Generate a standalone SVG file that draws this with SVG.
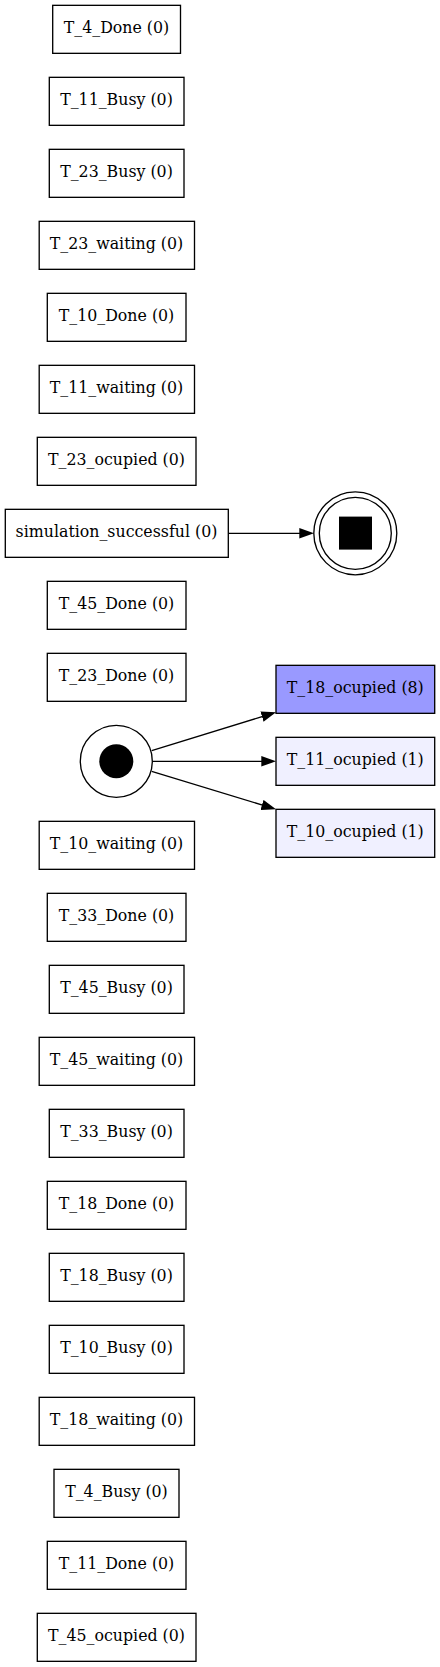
<svg xmlns="http://www.w3.org/2000/svg" width="440" height="1667" viewBox="0 0 440 1667">
<style>
.b{fill:#fff;stroke:#000;stroke-width:1.33;transform:translate(0,.33px)}
.t{font-family:"DejaVu Serif",serif;font-size:15.8px;text-anchor:middle;fill:#000}
.e{stroke:#000;stroke-width:1.33;fill:none;marker-end:url(#a)}
.c{fill:none;stroke:#000;stroke-width:1.33}
</style>
<defs><marker id="a" markerUnits="userSpaceOnUse" markerWidth="15" markerHeight="11" refX="10.7" refY="5.5" orient="auto"><path d="M0,0.2L14.7,5.5L0,10.8z" fill="#000"/></marker></defs>
<rect width="440" height="1667" fill="#fff"/>
<g id="connectors">
<line class="e" x1="228.3" y1="533.3" x2="310" y2="533.3"/>
<line class="e" x1="151.7" y1="750.7" x2="272.2" y2="713.5"/>
<line class="e" x1="152.5" y1="761.3" x2="272" y2="761.3"/>
<line class="e" x1="151.7" y1="771.3" x2="272.2" y2="808.1"/>
</g>
<g id="n1"><rect class="b" x="52.7" y="5" width="127.8" height="48"/><text class="t" x="116.5" y="33.3">T_4_Done (0)</text></g>
<g id="n2"><rect class="b" x="49.3" y="77" width="134.7" height="48"/><text class="t" x="116.5" y="105.3">T_11_Busy (0)</text></g>
<g id="n3"><rect class="b" x="49.3" y="149" width="134.7" height="48"/><text class="t" x="116.5" y="177.3">T_23_Busy (0)</text></g>
<g id="n4"><rect class="b" x="39.2" y="221" width="155.3" height="48"/><text class="t" x="116.5" y="249.3">T_23_waiting (0)</text></g>
<g id="n5"><rect class="b" x="47.3" y="293" width="138.7" height="48"/><text class="t" x="116.5" y="321.3">T_10_Done (0)</text></g>
<g id="n6"><rect class="b" x="39.2" y="365" width="155.3" height="48"/><text class="t" x="116.5" y="393.3">T_11_waiting (0)</text></g>
<g id="n7"><rect class="b" x="37.3" y="437" width="158.7" height="48"/><text class="t" x="116.5" y="465.3">T_23_ocupied (0)</text></g>
<g id="n8"><rect class="b" x="5.3" y="509" width="223" height="48"/><text class="t" x="116.5" y="537.3">simulation_successful (0)</text></g>
<g id="n9"><rect class="b" x="47.3" y="581" width="138.7" height="48"/><text class="t" x="116.5" y="609.3">T_45_Done (0)</text></g>
<g id="n10"><rect class="b" x="47.3" y="653" width="138.7" height="48"/><text class="t" x="116.5" y="681.3">T_23_Done (0)</text></g>
<g id="n11"><rect class="b" x="39.2" y="821" width="155.3" height="48"/><text class="t" x="116.5" y="849.3">T_10_waiting (0)</text></g>
<g id="n12"><rect class="b" x="47.3" y="893" width="138.7" height="48"/><text class="t" x="116.5" y="921.3">T_33_Done (0)</text></g>
<g id="n13"><rect class="b" x="49.3" y="965" width="134.7" height="48"/><text class="t" x="116.5" y="993.3">T_45_Busy (0)</text></g>
<g id="n14"><rect class="b" x="39.2" y="1037" width="155.3" height="48"/><text class="t" x="116.5" y="1065.3">T_45_waiting (0)</text></g>
<g id="n15"><rect class="b" x="49.3" y="1109" width="134.7" height="48"/><text class="t" x="116.5" y="1137.3">T_33_Busy (0)</text></g>
<g id="n16"><rect class="b" x="47.3" y="1181" width="138.7" height="48"/><text class="t" x="116.5" y="1209.3">T_18_Done (0)</text></g>
<g id="n17"><rect class="b" x="49.3" y="1253" width="134.7" height="48"/><text class="t" x="116.5" y="1281.3">T_18_Busy (0)</text></g>
<g id="n18"><rect class="b" x="49.3" y="1325" width="134.7" height="48"/><text class="t" x="116.5" y="1353.3">T_10_Busy (0)</text></g>
<g id="n19"><rect class="b" x="39.2" y="1397" width="155.3" height="48"/><text class="t" x="116.5" y="1425.3">T_18_waiting (0)</text></g>
<g id="n20"><rect class="b" x="54" y="1469" width="125" height="48"/><text class="t" x="116.5" y="1497.3">T_4_Busy (0)</text></g>
<g id="n21"><rect class="b" x="47.3" y="1541" width="138.7" height="48"/><text class="t" x="116.5" y="1569.3">T_11_Done (0)</text></g>
<g id="n22"><rect class="b" x="37.3" y="1613" width="158.7" height="48"/><text class="t" x="116.5" y="1641.3">T_45_ocupied (0)</text></g>
<g id="n23"><rect class="b" x="276" y="665" width="158.7" height="48" style="fill:#9999ff"/><text class="t" x="355.3" y="693.3">T_18_ocupied (8)</text></g>
<g id="n24"><rect class="b" x="276" y="737" width="158.7" height="48" style="fill:#f0f0ff"/><text class="t" x="355.3" y="765.3">T_11_ocupied (1)</text></g>
<g id="n25"><rect class="b" x="276" y="809" width="158.7" height="48" style="fill:#f0f0ff"/><text class="t" x="355.3" y="837.3">T_10_ocupied (1)</text></g>
<g id="start"><circle class="c" cx="116.3" cy="761.3" r="36"/><circle cx="116.3" cy="761.3" r="17"/></g>
<g id="end"><circle class="c" cx="355.3" cy="533.3" r="41.5"/><circle class="c" cx="355.3" cy="533.3" r="36"/><rect x="339" y="516.6" width="33" height="33"/></g>
</svg>
